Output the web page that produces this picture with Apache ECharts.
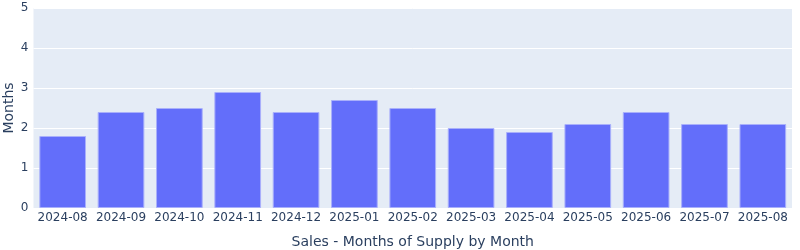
<!DOCTYPE html>
<html><head><meta charset="utf-8">
<script src="https://cdn.jsdelivr.net/npm/echarts@6/dist/echarts.min.js"></script>
<style>html,body{margin:0;padding:0;background:#fff}#c{width:800px;height:250px}</style>
</head><body><div id="c"></div>
<script>
var categories = ["2024-08","2024-09","2024-10","2024-11","2024-12","2025-01","2025-02","2025-03","2025-04","2025-05","2025-06","2025-07","2025-08"];
var monthsOfSupply = [1.8,2.4,2.5,2.9,2.4,2.7,2.5,2.0,1.9,2.1,2.4,2.1,2.1];
var yTicks = [0,1,2,3,4,5];
var xTitle = "Sales - Months of Supply by Month";
var yTitle = "Months";

var font = "DejaVu Sans";
var chart = echarts.init(document.getElementById('c'), null, {renderer:'canvas'});
chart.setOption({
  animation:false,
  backgroundColor:'#fff',
  grid:{left:33.5,right:8,top:8,bottom:42,show:true,backgroundColor:'#E5ECF6',borderWidth:0,
    containLabel:false,outerBoundsMode:'none'},
  xAxis:{type:'category',data:categories,
    axisLine:{show:false},axisTick:{show:false},
    axisLabel:{color:'#2a3f5f',fontFamily:font,fontSize:12,margin:4,interval:0},
    name:xTitle,nameLocation:'middle',nameGap:27,nameMoveOverlap:false,
    nameTextStyle:{color:'#2a3f5f',fontFamily:font,fontSize:14}},
  yAxis:{type:'value',min:yTicks[0],max:yTicks[yTicks.length-1],interval:1,
    axisLine:{show:false},axisTick:{show:false},
    splitLine:{lineStyle:{color:'#ffffff',width:1}},
    axisLabel:{color:'#2a3f5f',fontFamily:font,fontSize:12,margin:5},
    name:yTitle,nameLocation:'middle',nameGap:17,nameMoveOverlap:false,
    nameTextStyle:{color:'#2a3f5f',fontFamily:font,fontSize:14}},
  series:[{type:'bar',data:monthsOfSupply,barCategoryGap:'20%',
    itemStyle:{color:'#636efa',borderColor:'#a9b0fb',borderWidth:1}}]
});
</script></body></html>
